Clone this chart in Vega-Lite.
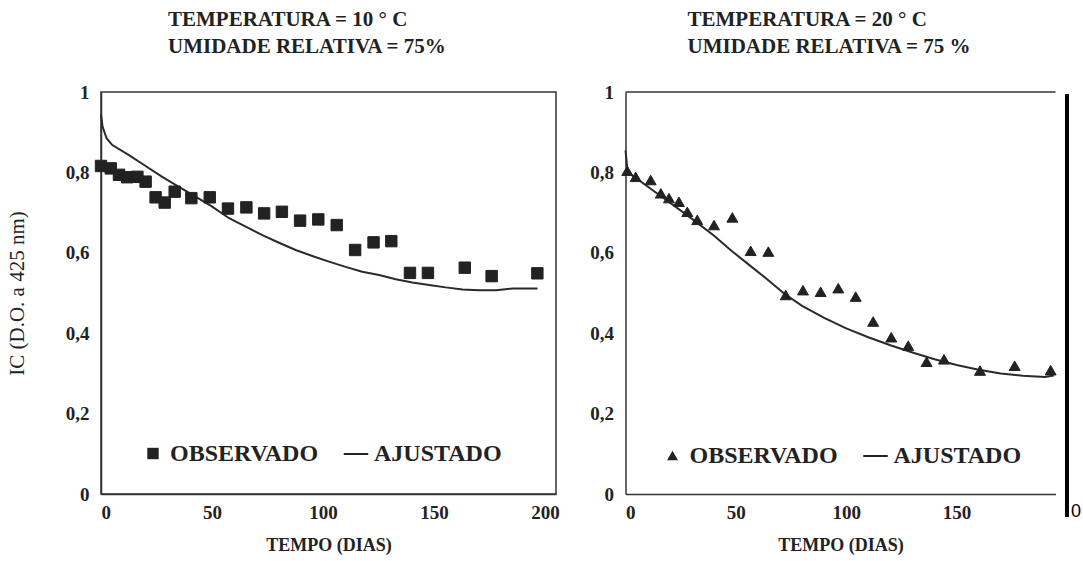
{
  "$schema": "https://vega.github.io/schema/vega-lite/v6.json",
  "background": "white",
  "padding": {"left": 5, "top": 8, "right": 0, "bottom": 0},
  "bounds": "flush",
  "spacing": 69.5,
  "config": {
    "font": "Liberation Serif",
    "view": {"stroke": "#333", "strokeWidth": 1.5},
    "axis": {
      "grid": false, "ticks": false, "domainColor": "#333", "domainWidth": 1.5,
      "labelFont": "Liberation Serif", "labelFontWeight": "bold", "labelFontSize": 19, "labelColor": "#222",
      "titleFont": "Liberation Serif", "titleFontWeight": "bold", "titleColor": "#222", "titleFontSize": 18
    },
    "legend": {
      "labelFont": "Liberation Serif", "labelFontWeight": "bold", "labelFontSize": 24, "labelColor": "#222",
      "symbolFillColor": "#222", "symbolStrokeColor": "#222", "symbolStrokeWidth": 1, "columnPadding": 22, "labelOffset": 5
    },
    "title": {"font": "Liberation Serif", "fontWeight": "bold", "fontSize": 21, "color": "#222", "anchor": "start", "frame": "group", "lineHeight": 27}
  },
  "datasets": {
    "esq_obs": [
      {"dias": 0, "ic": 0.816, "serie": "OBSERVADO"},
      {"dias": 4.4, "ic": 0.81, "serie": "OBSERVADO"},
      {"dias": 8.1, "ic": 0.794, "serie": "OBSERVADO"},
      {"dias": 11.8, "ic": 0.788, "serie": "OBSERVADO"},
      {"dias": 16.4, "ic": 0.789, "serie": "OBSERVADO"},
      {"dias": 20.1, "ic": 0.777, "serie": "OBSERVADO"},
      {"dias": 24.6, "ic": 0.738, "serie": "OBSERVADO"},
      {"dias": 28.7, "ic": 0.725, "serie": "OBSERVADO"},
      {"dias": 33.2, "ic": 0.752, "serie": "OBSERVADO"},
      {"dias": 40.7, "ic": 0.736, "serie": "OBSERVADO"},
      {"dias": 49.0, "ic": 0.738, "serie": "OBSERVADO"},
      {"dias": 57.2, "ic": 0.71, "serie": "OBSERVADO"},
      {"dias": 65.5, "ic": 0.713, "serie": "OBSERVADO"},
      {"dias": 73.5, "ic": 0.698, "serie": "OBSERVADO"},
      {"dias": 81.5, "ic": 0.702, "serie": "OBSERVADO"},
      {"dias": 89.7, "ic": 0.68, "serie": "OBSERVADO"},
      {"dias": 97.9, "ic": 0.683, "serie": "OBSERVADO"},
      {"dias": 106.2, "ic": 0.669, "serie": "OBSERVADO"},
      {"dias": 114.5, "ic": 0.607, "serie": "OBSERVADO"},
      {"dias": 122.8, "ic": 0.626, "serie": "OBSERVADO"},
      {"dias": 130.8, "ic": 0.629, "serie": "OBSERVADO"},
      {"dias": 139.2, "ic": 0.55, "serie": "OBSERVADO"},
      {"dias": 147.3, "ic": 0.55, "serie": "OBSERVADO"},
      {"dias": 163.9, "ic": 0.563, "serie": "OBSERVADO"},
      {"dias": 176.0, "ic": 0.542, "serie": "OBSERVADO"},
      {"dias": 196.6, "ic": 0.549, "serie": "OBSERVADO"}
    ],
    "esq_aj": [
      {"dias": 0, "ic": 0.945},
      {"dias": 0.7, "ic": 0.914},
      {"dias": 2.5, "ic": 0.885},
      {"dias": 5.1, "ic": 0.868},
      {"dias": 12.6, "ic": 0.843},
      {"dias": 20.1, "ic": 0.816},
      {"dias": 27.6, "ic": 0.789},
      {"dias": 35.1, "ic": 0.764},
      {"dias": 42.6, "ic": 0.74},
      {"dias": 50.1, "ic": 0.715},
      {"dias": 57.7, "ic": 0.686},
      {"dias": 65.2, "ic": 0.665},
      {"dias": 72.7, "ic": 0.644},
      {"dias": 80.2, "ic": 0.625},
      {"dias": 87.7, "ic": 0.607},
      {"dias": 95.2, "ic": 0.592},
      {"dias": 102.7, "ic": 0.578},
      {"dias": 110.2, "ic": 0.565},
      {"dias": 117.7, "ic": 0.553},
      {"dias": 125.3, "ic": 0.545},
      {"dias": 132.8, "ic": 0.534},
      {"dias": 140.3, "ic": 0.526},
      {"dias": 147.8, "ic": 0.52},
      {"dias": 155.3, "ic": 0.514},
      {"dias": 162.9, "ic": 0.509},
      {"dias": 170.4, "ic": 0.507},
      {"dias": 178.0, "ic": 0.507},
      {"dias": 185.4, "ic": 0.511},
      {"dias": 196.7, "ic": 0.511}
    ],
    "dir_obs": [
      {"dias": 0.8, "ic": 0.804, "serie": "OBSERVADO"},
      {"dias": 4.6, "ic": 0.789, "serie": "OBSERVADO"},
      {"dias": 11.4, "ic": 0.781, "serie": "OBSERVADO"},
      {"dias": 16.0, "ic": 0.748, "serie": "OBSERVADO"},
      {"dias": 19.7, "ic": 0.736, "serie": "OBSERVADO"},
      {"dias": 24.2, "ic": 0.727, "serie": "OBSERVADO"},
      {"dias": 28.0, "ic": 0.702, "serie": "OBSERVADO"},
      {"dias": 32.5, "ic": 0.682, "serie": "OBSERVADO"},
      {"dias": 40.1, "ic": 0.669, "serie": "OBSERVADO"},
      {"dias": 48.4, "ic": 0.688, "serie": "OBSERVADO"},
      {"dias": 56.7, "ic": 0.605, "serie": "OBSERVADO"},
      {"dias": 64.7, "ic": 0.603, "serie": "OBSERVADO"},
      {"dias": 72.6, "ic": 0.495, "serie": "OBSERVADO"},
      {"dias": 80.4, "ic": 0.507, "serie": "OBSERVADO"},
      {"dias": 88.4, "ic": 0.503, "serie": "OBSERVADO"},
      {"dias": 96.4, "ic": 0.512, "serie": "OBSERVADO"},
      {"dias": 104.3, "ic": 0.491, "serie": "OBSERVADO"},
      {"dias": 112.2, "ic": 0.429, "serie": "OBSERVADO"},
      {"dias": 120.4, "ic": 0.39, "serie": "OBSERVADO"},
      {"dias": 128.1, "ic": 0.369, "serie": "OBSERVADO"},
      {"dias": 136.4, "ic": 0.329, "serie": "OBSERVADO"},
      {"dias": 144.3, "ic": 0.335, "serie": "OBSERVADO"},
      {"dias": 160.6, "ic": 0.307, "serie": "OBSERVADO"},
      {"dias": 176.3, "ic": 0.319, "serie": "OBSERVADO"},
      {"dias": 192.6, "ic": 0.308, "serie": "OBSERVADO"}
    ],
    "dir_aj": [
      {"dias": 0, "ic": 0.855},
      {"dias": 1, "ic": 0.8},
      {"dias": 5, "ic": 0.785},
      {"dias": 10, "ic": 0.765},
      {"dias": 20, "ic": 0.725},
      {"dias": 30, "ic": 0.685},
      {"dias": 40, "ic": 0.643},
      {"dias": 48, "ic": 0.605},
      {"dias": 56, "ic": 0.57},
      {"dias": 64, "ic": 0.535},
      {"dias": 72, "ic": 0.498},
      {"dias": 80, "ic": 0.468},
      {"dias": 90, "ic": 0.438},
      {"dias": 100, "ic": 0.412},
      {"dias": 110, "ic": 0.39},
      {"dias": 120, "ic": 0.37},
      {"dias": 130, "ic": 0.352},
      {"dias": 140, "ic": 0.335},
      {"dias": 150, "ic": 0.321},
      {"dias": 160, "ic": 0.309},
      {"dias": 170, "ic": 0.3},
      {"dias": 180, "ic": 0.294},
      {"dias": 190, "ic": 0.291},
      {"dias": 194, "ic": 0.295}
    ],
    "moldura": [{"x0": 0, "x1": 194.8, "topo": 1, "borda": 200, "ytop": 0.995, "ybase": -0.057, "ytexto": -0.045, "rotulo": "0"}]
  },
  "hconcat": [
    {
      "width": 455,
      "height": 402,
      "title": {"text": ["TEMPERATURA = 10 ° C", "UMIDADE RELATIVA = 75%"], "dx": 67, "offset": 26},
      "layer": [
        {
          "data": {"name": "esq_aj"},
          "mark": {"type": "line", "color": "#2a2a2a", "strokeWidth": 2},
          "encoding": {
            "x": {"field": "dias", "type": "quantitative", "scale": {"domain": [0, 205], "nice": false, "zero": false},
                  "axis": {"values": [0, 50, 100, 150, 200], "title": "TEMPO (DIAS)", "labelPadding": 9, "titlePadding": 14}},
            "y": {"field": "ic", "type": "quantitative", "scale": {"domain": [0, 1], "nice": false},
                  "axis": {"values": [0, 0.2, 0.4, 0.6, 0.8, 1], "labelExpr": "datum.value == 0 ? '0' : datum.value == 1 ? '1' : replace(format(datum.value, '.1f'), '.', ',')",
                           "title": "IC (D.O. a 425 nm)", "titleFontWeight": "normal", "titleFontSize": 21, "labelPadding": 12, "titlePadding": 38}}
          }
        },
        {
          "data": {"name": "esq_obs"},
          "mark": {"type": "point", "filled": true, "color": "#222", "opacity": 1, "stroke": "#222", "strokeWidth": 1},
          "encoding": {
            "x": {"field": "dias", "type": "quantitative"},
            "y": {"field": "ic", "type": "quantitative"},
            "shape": {"field": "serie", "type": "nominal", "scale": {"domain": ["OBSERVADO", "AJUSTADO"], "range": ["square", "M-1,-0.08L1,-0.08L1,0.08L-1,0.08Z"]},
                      "legend": {"orient": "none", "legendX": 40, "legendY": 349, "direction": "horizontal", "title": null}},
            "size": {"field": "serie", "type": "nominal", "scale": {"domain": ["OBSERVADO", "AJUSTADO"], "range": [130, 600]},
                     "legend": {"orient": "none", "legendX": 40, "legendY": 349, "direction": "horizontal", "title": null}}
          }
        }
      ]
    },
    {
      "width": 430,
      "height": 402,
      "view": {"stroke": null},
      "title": {"text": ["TEMPERATURA = 20 ° C", "UMIDADE RELATIVA = 75 %"], "dx": 62, "offset": 26},
      "layer": [
        {
          "data": {"name": "dir_aj"},
          "mark": {"type": "line", "color": "#2a2a2a", "strokeWidth": 2},
          "encoding": {
            "x": {"field": "dias", "type": "quantitative", "scale": {"domain": [0, 194.8], "nice": false, "zero": false},
                  "axis": {"values": [0, 50, 100, 150], "title": "TEMPO (DIAS)", "labelPadding": 9, "titlePadding": 14}},
            "y": {"field": "ic", "type": "quantitative", "scale": {"domain": [0, 1], "nice": false},
                  "axis": {"values": [0, 0.2, 0.4, 0.6, 0.8, 1], "labelExpr": "datum.value == 0 ? '0' : datum.value == 1 ? '1' : replace(format(datum.value, '.1f'), '.', ',')",
                           "title": null, "labelPadding": 12}}
          }
        },
        {
          "data": {"name": "dir_obs"},
          "mark": {"type": "point", "filled": true, "color": "#222", "opacity": 1, "stroke": "#222", "strokeWidth": 1},
          "encoding": {
            "x": {"field": "dias", "type": "quantitative"},
            "y": {"field": "ic", "type": "quantitative"},
            "shape": {"field": "serie", "type": "nominal", "scale": {"domain": ["OBSERVADO", "AJUSTADO"], "range": ["triangle-up", "M-1,-0.08L1,-0.08L1,0.08L-1,0.08Z"]},
                      "legend": {"orient": "none", "legendX": 35, "legendY": 351, "direction": "horizontal", "title": null}},
            "size": {"field": "serie", "type": "nominal", "scale": {"domain": ["OBSERVADO", "AJUSTADO"], "range": [120, 600]},
                     "legend": {"orient": "none", "legendX": 35, "legendY": 351, "direction": "horizontal", "title": null}}
          }
        },
        {
          "data": {"name": "moldura"},
          "mark": {"type": "rule", "color": "#333", "strokeWidth": 1.5},
          "encoding": {
            "x": {"field": "x0", "type": "quantitative"},
            "x2": {"field": "x1"},
            "y": {"field": "topo", "type": "quantitative"}
          }
        },
        {
          "data": {"name": "moldura"},
          "mark": {"type": "rule", "color": "black", "strokeWidth": 4},
          "encoding": {
            "x": {"field": "borda", "type": "quantitative"},
            "y": {"field": "ytop", "type": "quantitative"},
            "y2": {"field": "ybase"}
          }
        },
        {
          "data": {"name": "moldura"},
          "mark": {"type": "text", "font": "Liberation Sans", "fontSize": 18, "color": "black", "align": "left", "baseline": "middle", "dx": 4},
          "encoding": {
            "x": {"field": "borda", "type": "quantitative"},
            "y": {"field": "ytexto", "type": "quantitative"},
            "text": {"field": "rotulo"}
          }
        }
      ]
    }
  ],
  "resolve": {"scale": {"shape": "independent", "size": "independent"}, "legend": {"shape": "independent", "size": "independent"}}
}
